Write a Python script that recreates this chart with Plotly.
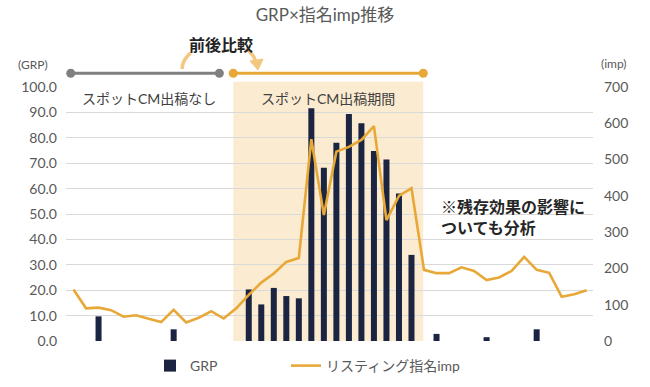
import plotly.graph_objects as go

# ---------------- data ----------------
weeks = list(range(42))
grp = [None, None, 9.7, None, None, None, None, None, 4.6, None, None, None, None, None,
       20.3, 14.4, 20.9, 17.7, 16.8, 91.6, 68.2, 78.1, 89.4, 85.7, 74.8, 71.5, 58.1, 33.9,
       None, 2.8, None, None, None, 1.5, None, None, None, 4.6, None, None, None, None]
imp = [142, 90, 92, 85, 67, 71, 61, 52, 86, 51, 64, 82, 62, 90, 127, 161, 186, 218, 229, 556,
       347, 522, 535, 554, 592, 333, 400, 421, 196, 187, 187, 203, 193, 168, 175, 193, 232, 196,
       188, 122, 129, 140]
grp_ticks = [0, 10, 20, 30, 40, 50, 60, 70, 80, 90, 100]
imp_ticks = [0, 100, 200, 300, 400, 500, 600, 700]

title_text = "GRP×指名imp推移"
series_names = ["GRP", "リスティング指名imp"]
label_before = "スポットCM出稿なし"
label_during = "スポットCM出稿期間"
label_compare = "前後比較"
note_lines = ["※残存効果の影響に", "ついても分析"]

before_span = (-0.22, 11.65)   # in week index units
during_span = (12.76, 27.94)

# ---------------- layout constants ----------------
W, H = 650, 387
ML, MR, MT, MB = 66, 57, 87, 46
PW, PH = W - ML - MR, H - MT - MB
XMIN, XMAX = -0.6, 41.5

NAVY = "#1B2440"
GOLD = "#E8A838"
SHADE = "#FBEBD0"
GREY = "#808080"
TXT = "#595959"
FONT = "Lato, Noto Sans CJK JP, sans-serif"
JFONT = "Noto Sans CJK JP, sans-serif"


def xp(v):
    return (v - XMIN) / (XMAX - XMIN)


def px(x):
    return (x - ML) / PW


def py(y):
    return (H - MB - y) / PH


fig = go.Figure()
fig.add_trace(go.Bar(x=weeks, y=grp, name=series_names[0], marker_color=NAVY,
                     width=0.48, yaxis="y", marker_line_width=0, legend="legend"))
fig.add_trace(go.Scatter(x=weeks, y=imp, name=series_names[1], mode="lines",
                         line=dict(color=GOLD, width=2.6), yaxis="y2", legend="legend2"))

shapes = []
# shaded CM period
shapes.append(dict(type="rect", xref="paper", yref="paper", x0=xp(during_span[0]),
                   x1=xp(during_span[1]), y0=0, y1=py(81.7), fillcolor=SHADE,
                   line=dict(width=0), layer="below"))
# brackets
yb = py(73.3)
for (a, b), col in ((before_span, GREY), (during_span, GOLD)):
    shapes.append(dict(type="line", xref="paper", yref="paper", x0=xp(a), x1=xp(b),
                       y0=yb, y1=yb, line=dict(color=col, width=3)))
    for v in (a, b):
        shapes.append(dict(type="circle", xref="paper", yref="paper", xsizemode="pixel",
                           ysizemode="pixel", xanchor=xp(v), yanchor=yb, x0=-4.5, x1=4.5,
                           y0=-4.5, y1=4.5, fillcolor=col, line=dict(width=0)))
# curved arrow (the middle of the arc is hidden behind the 前後比較 label)
ARC = "#F2C77E"
P = [(182, 69), (184, 38), (250, 33), (256, 63)]


def bez(t):
    a, b, c, d = (1 - t) ** 3, 3 * (1 - t) ** 2 * t, 3 * (1 - t) * t ** 2, t ** 3
    return (a * P[0][0] + b * P[1][0] + c * P[2][0] + d * P[3][0],
            a * P[0][1] + b * P[1][1] + c * P[2][1] + d * P[3][1])


for t0, t1 in ((0.0, 0.21), (0.79, 1.0)):
    pts = [bez(t0 + (t1 - t0) * k / 12) for k in range(13)]
    path = "M " + " L ".join("{:.5f} {:.5f}".format(px(x), py(y)) for x, y in pts)
    shapes.append(dict(type="path", xref="paper", yref="paper", path=path,
                       line=dict(color=ARC, width=3.5)))
head = "M {} {} L {} {} L {} {} Z".format(px(258), py(70), px(250), py(61), px(263), py(59))
shapes.append(dict(type="path", xref="paper", yref="paper", path=head, fillcolor=ARC,
                   line=dict(color=ARC, width=1)))


def note(text, x, y, size, color, family=FONT, xanchor="center", **kw):
    return dict(text=text, xref="paper", yref="paper", x=px(x), y=py(y), xanchor=xanchor,
                yanchor="middle", showarrow=False,
                font=dict(family=family, size=size, color=color), **kw)


annotations = [
    note("<b>" + label_compare + "</b>", 220.5, 44, 16, "#222222", JFONT),
    note(label_before, 149, 98.5, 14, "#404040"),
    note(label_during, 328, 98.5, 14, "#404040"),
    note("<b>" + "<br>".join(note_lines) + "</b>", 439, 216, 16, "#262626", JFONT, "left",
         align="left"),
    note("(GRP)", 50, 65, 12, TXT, FONT, "right"),
    note("(imp)", 599, 64, 12, TXT, FONT, "left"),
]

legend_common = dict(orientation="h", xanchor="left", yanchor="middle", y=py(366),
                     font=dict(family=FONT, size=14, color=TXT), bgcolor="rgba(0,0,0,0)")

fig.update_layout(
    template="none",
    width=W, height=H,
    margin=dict(l=ML, r=MR, t=MT, b=MB, pad=0, autoexpand=False),
    paper_bgcolor="white", plot_bgcolor="white",
    font=dict(family=FONT, color=TXT),
    title=dict(text=title_text, x=0.5, xanchor="center", y=1 - 15 / H, yanchor="middle",
               font=dict(family=FONT, size=17, color=TXT)),
    xaxis=dict(range=[XMIN, XMAX], showticklabels=False, showgrid=False, zeroline=False,
               showline=False, ticks="", automargin=False),
    yaxis=dict(range=[0, 100], tickvals=grp_ticks, tickformat=".1f", showgrid=True,
               gridcolor="#D9D9D9", gridwidth=1, zeroline=False, showline=False, ticks="",
               tickfont=dict(size=14, color=TXT), ticklabelstandoff=8, automargin=False),
    yaxis2=dict(range=[0, 700], tickvals=imp_ticks, overlaying="y", side="right",
                showgrid=False, zeroline=False, showline=False, ticks="",
                tickfont=dict(size=14, color=TXT), ticklabelstandoff=10, automargin=False),
    showlegend=True,
    legend=dict(x=px(150), **legend_common),
    legend2=dict(x=px(286), **legend_common),
    shapes=shapes,
    annotations=annotations,
    bargap=0.5,
    hovermode=False,
)

fig.write_html("out.html", config={"displayModeBar": False},
               post_script="document.body.style.margin='0';")
